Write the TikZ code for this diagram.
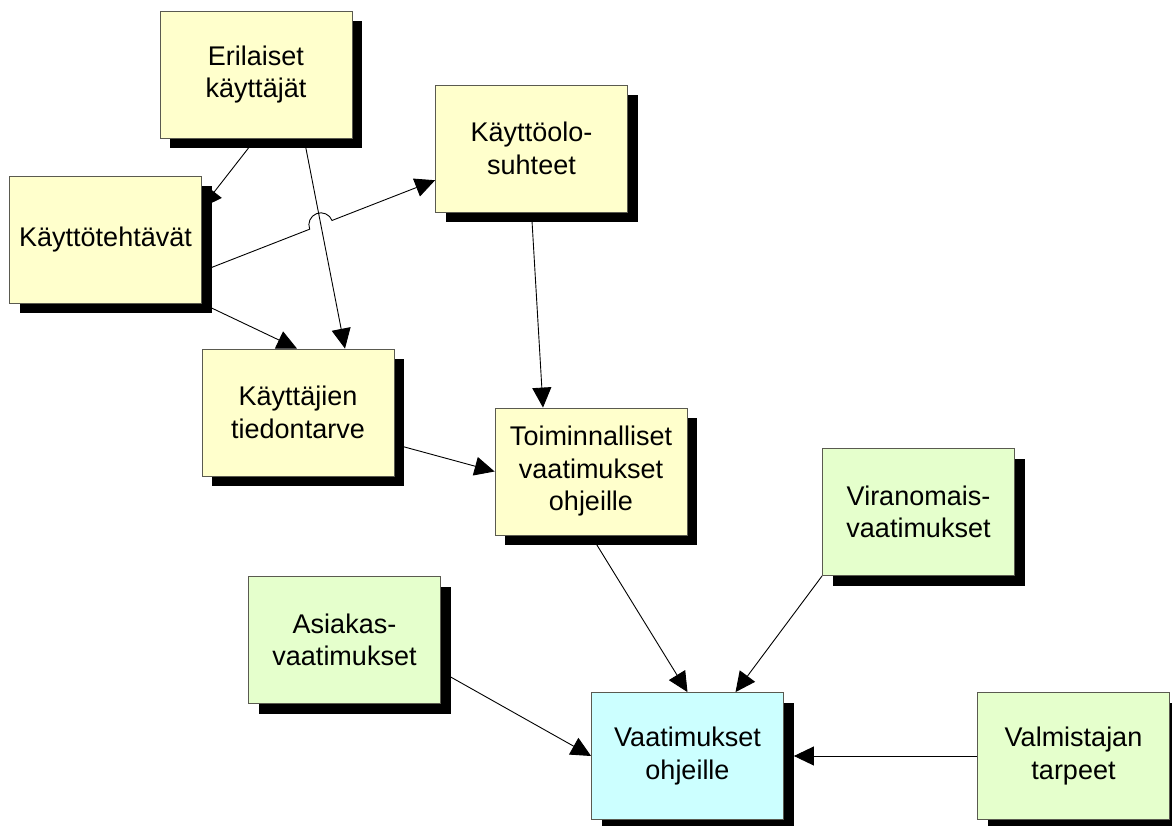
\documentclass[tikz,border=0pt]{standalone}
\usepackage{fontspec}
\setmainfont{Liberation Sans}
\usetikzlibrary{shadows,calc,arrows.meta,backgrounds}
\definecolor{boxyellow}{HTML}{FFFFCC}
\definecolor{boxgreen}{HTML}{E5FFCC}
\definecolor{boxblue}{HTML}{CCFFFF}
\definecolor{boxline}{HTML}{5A5A50}
\tikzset{
  box/.style={draw=boxline, line width=0.8pt, minimum width=192pt, minimum height=127pt,
    inner sep=0pt, align=center, font=\fontsize{27}{32.5}\selectfont,
    general shadow={fill=black, shadow xshift=10pt, shadow yshift=-10pt}},
  ybox/.style={box, fill=boxyellow},
  gbox/.style={box, fill=boxgreen},
  bbox/.style={box, fill=boxblue},
  conn/.style={line width=0.9pt, -{Triangle[length=20pt,width=19pt]}}
}
\begin{document}
\begin{tikzpicture}[x=1pt,y=1pt]
\useasboundingbox (0,-826) rectangle (1172,0);
\node[ybox] (er) at (256,-74.5) {Erilaiset\\käyttäjät};
\node[ybox] (kt) at (105.5,-239.5) {Käyttötehtävät};
\node[ybox] (ko) at (531.5,-148.5) {Käyttöolo-\\suhteet};
\node[ybox] (kj) at (298,-412.5) {Käyttäjien\\tiedontarve};
\node[ybox] (to) at (591,-471.5) {Toiminnalliset\\vaatimukset\\ohjeille};
\node[gbox] (vi) at (918.5,-512) {Viranomais-\\vaatimukset};
\node[gbox] (as) at (344.5,-640) {Asiakas-\\vaatimukset};
\node[bbox] (va) at (687.5,-756) {Vaatimukset\\ohjeille};
\node[gbox] (vm) at (1073.5,-756) {Valmistajan\\tarpeet};
\begin{scope}[on background layer]
\draw[conn] (er.south) -- ([yshift=31.75pt]kt.east);
\draw[conn] ([xshift=48pt]er.south) -- ([xshift=47pt]kj.north);
\coordinate (s3) at ([yshift=-31.75pt]kt.east);
\coordinate (e3) at ([yshift=-31.75pt]ko.west);
\draw[conn] (s3) -- ($(s3)!0.4622!(e3)$) arc[start angle=201.34, end angle=21.34, radius=12pt] -- (e3);
\draw[conn] (kt.south east) -- ([xshift=-1pt]kj.north);
\draw[conn] (ko.south) -- ([xshift=-48pt]to.north);
\draw[conn] ([yshift=-31.75pt]kj.east) -- (to.west);
\draw[conn] (to.south) -- (va.north);
\draw[conn] (vi.south west) -- ([xshift=48pt]va.north);
\draw[conn] ([yshift=-31.5pt]as.east) -- (va.west);
\draw[conn] (vm.west) -- ([xshift=10pt]va.east);
\end{scope}
\end{tikzpicture}
\end{document}
